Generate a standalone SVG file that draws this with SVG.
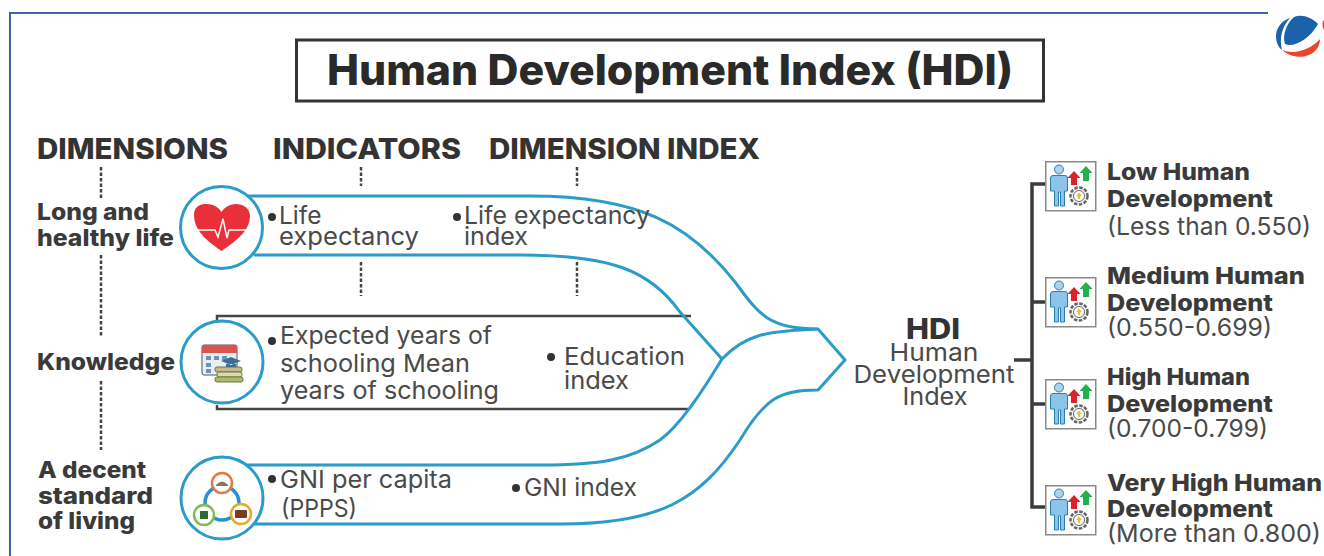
<svg xmlns="http://www.w3.org/2000/svg" width="1324" height="556" viewBox="0 0 1324 556">
<style>
text{font-family:Inter,"Noto Sans","Liberation Sans",sans-serif;fill:#3a3a3a}
.h{font-weight:800;font-size:29px;fill:#333}
.b{font-weight:800;font-size:23px;fill:#3a3a3a}
.r{font-weight:400;font-size:24.5px;fill:#4a4a4a}
.dash{fill:none;stroke:#444;stroke-width:2.500;stroke-dasharray:3.500 2}
.blue{fill:none;stroke:#2b9cc8;stroke-width:3;stroke-linejoin:round}
.blk{fill:none;stroke:#444;stroke-width:2.500}
.circ{fill:#fff;stroke:#2b9cc8;stroke-width:3}
.dot{fill:#333}
.brk{fill:none;stroke:#3c3c3c;stroke-width:3.500}
</style>
<defs>
<g id="person">
<rect x="0.75" y="0.75" width="50" height="49" fill="#fff" stroke="#8a8a8a" stroke-width="1.500"/>
<circle cx="14" cy="8.500" r="4.500" fill="#a9d3ee" stroke="#2c7fb0" stroke-width="1"/>
<path d="M5.500 17q0-2.500 2.500-2.500h12q2.500 0 2.500 2.500v13h-3v15h-4v-14h-2v14h-4v-15h-4z" fill="#8cc3e8" stroke="#2c7fb0" stroke-width="1"/>
<path d="M29 10l-6.500 7h3.500v7h6v-7h3.500z" fill="#d9252a"/>
<path d="M41 5l-6.500 7h3.500v8h6v-8h3.500z" fill="#22b14c"/>
<circle cx="34" cy="35" r="8.500" fill="#f1f1f1" stroke="#666" stroke-width="2.500" stroke-dasharray="3.500 1.500"/>
<circle cx="34" cy="35" r="5.500" fill="#fff" stroke="#666"/>
<path d="M34 31.500l-3 3.500h1.800v3h2.400v-3h1.800z" fill="#e5c32a"/>
</g>
</defs>

<g id="frame">
<path d="M10 556V13H1268" fill="none" stroke="#3f64a8" stroke-width="2"/>
</g>
<g id="logo">
<path d="M1290 18C1280 21 1276 30 1276 36C1276 43 1279 48 1282 50C1279 38 1282 27 1290 18Z" fill="#1c62ab"/>
<path d="M1318 24C1311 17 1302 14 1294 17C1286 24 1282 36 1285 44C1293 48 1309 40 1318 24Z" fill="#1c62ab"/>
<path d="M1282 50C1294 55 1310 50 1320 39C1320 46 1316 52 1309 55C1299 59 1289 56 1282 50Z" fill="#e8472d"/>
<path d="M1324 20C1322 22 1322 26 1324 30Z" fill="#e8472d"/>
</g>
<g id="title">
<rect x="296.500" y="40" width="747" height="61" fill="#fff" stroke="#333" stroke-width="3"/>
<text x="670" y="85" text-anchor="middle" font-size="42" font-weight="800" style="fill:#2a2a2a" textLength="686" lengthAdjust="spacingAndGlyphs">Human Development Index (HDI)</text>
</g>
<g id="headers">
<text class="h" x="37" y="159" textLength="191" lengthAdjust="spacingAndGlyphs">DIMENSIONS</text>
<text class="h" x="273" y="159" textLength="188" lengthAdjust="spacingAndGlyphs">INDICATORS</text>
<text class="h" x="489" y="159" textLength="271" lengthAdjust="spacingAndGlyphs">DIMENSION INDEX</text>
</g>
<g id="connectors">
<path class="dash" d="M101 167V198M101 255V337M101 381V450M361 167V186M361 262V296M577 167V186M577 262V296"/>
<path class="blk" d="M217 321V316H691M217 405V409H688"/>
<path class="blue" d="M246 196H530C640 196 690 225 735 282C760 316 770 329 818 329L845 360L818 390C780 390 765 398 740 440C700 500 660 524 560 524H254"/>
<path class="blue" d="M254 255H520C610 255 650 270 680 312L722 359C700 395 680 425 660 440C630 460 600 465 540 465H247"/>
<path class="blue" d="M722 359C745 335 765 331 818 329"/>
<path class="brk" d="M1014 360H1032M1045 184H1032V507H1045M1032 302H1045M1032 404H1045"/>
</g>
<g id="n-long">
<text class="b" x="37" y="220" textLength="112" lengthAdjust="spacingAndGlyphs">Long and</text>
<text class="b" x="37" y="246" textLength="137" lengthAdjust="spacingAndGlyphs">healthy life</text>
<circle class="circ" cx="221.500" cy="227.500" r="41"/>
<path d="M221.500 251C212 244 194 233 194 215C194 205 202 204 207 204C214 204 219 208 221.500 212C224 208 229 204 236 204C243 204 250 208 250 216C250 233 231 244 221.500 251Z" fill="#e9303a"/>
<path d="M197 230H215L218 237L223 219L227 238L229 230H248" fill="none" stroke="#fff" stroke-width="1.500"/>
</g>
<g id="n-know">
<text class="b" x="37" y="370" textLength="138" lengthAdjust="spacingAndGlyphs">Knowledge</text>
<circle class="circ" cx="222" cy="362" r="41"/>
<rect x="202" y="345" width="35" height="30" rx="2" fill="#e8eef4" stroke="#555"/>
<rect x="202" y="345" width="35" height="8" fill="#d9534f"/>
<path d="M206 356h5v4h-5zM214 356h5v4h-5zM222 356h5v4h-5zM206 363h5v4h-5zM206 369h5v4h-5z" fill="#6d93b5"/>
<rect x="215" y="367" width="27" height="5" rx="2" fill="#c9b68a" stroke="#6b7a3a"/>
<rect x="217" y="372" width="25" height="5" rx="2" fill="#dcd9b0" stroke="#6b7a3a"/>
<rect x="215" y="377" width="28" height="5" rx="2" fill="#a9bb6e" stroke="#6b7a3a"/>
<path d="M221 361l10-4 10 4-10 4zM226 364v3h10v-3z" fill="#3b6e8f"/>
</g>
<g id="n-living">
<text class="b" x="38" y="478" textLength="108" lengthAdjust="spacingAndGlyphs">A decent</text>
<text class="b" x="38" y="504" textLength="115" lengthAdjust="spacingAndGlyphs">standard</text>
<text class="b" x="38" y="529" textLength="97" lengthAdjust="spacingAndGlyphs">of living</text>
<circle class="circ" cx="222" cy="498" r="41"/>
<circle cx="222" cy="503" r="17" fill="none" stroke="#2a8fd0" stroke-width="3.500"/>
<circle cx="222" cy="483" r="10" fill="#fff" stroke="#e07a45" stroke-width="2.500"/>
<path d="M216 485q6-7 12 0v1h-12z" fill="#8a6f6f"/>
<circle cx="204" cy="515" r="10" fill="#fff" stroke="#7cbf4d" stroke-width="2.500"/>
<rect x="200" y="511" width="8" height="8" fill="#2f6b2f"/>
<circle cx="241" cy="514" r="10" fill="#fff" stroke="#e6a92e" stroke-width="2.500"/>
<rect x="235" y="510" width="12" height="8" rx="1" fill="#7a3b1e"/>
</g>
<g id="indicators">
<circle class="dot" cx="272" cy="217" r="4"/>
<text class="r" x="279" y="224">Life</text>
<text class="r" x="279" y="245" textLength="140" lengthAdjust="spacingAndGlyphs">expectancy</text>
<circle class="dot" cx="272" cy="341" r="4"/>
<text class="r" x="280" y="344" textLength="212" lengthAdjust="spacingAndGlyphs">Expected years of</text>
<text class="r" x="280" y="372" textLength="190" lengthAdjust="spacingAndGlyphs">schooling Mean</text>
<text class="r" x="280" y="399" textLength="219" lengthAdjust="spacingAndGlyphs">years of schooling</text>
<circle class="dot" cx="272" cy="479" r="4"/>
<text class="r" x="280" y="488" textLength="172" lengthAdjust="spacingAndGlyphs">GNI per capita</text>
<text class="r" x="281" y="517" textLength="76" lengthAdjust="spacingAndGlyphs">(PPPS)</text>
</g>
<g id="indices">
<circle class="dot" cx="457" cy="217" r="4"/>
<text class="r" x="464" y="224" textLength="186" lengthAdjust="spacingAndGlyphs">Life expectancy</text>
<text class="r" x="464" y="245" textLength="64" lengthAdjust="spacingAndGlyphs">index</text>
<circle class="dot" cx="551" cy="357" r="4"/>
<text class="r" x="564" y="365" textLength="121" lengthAdjust="spacingAndGlyphs">Education</text>
<text class="r" x="564" y="389" textLength="65" lengthAdjust="spacingAndGlyphs">index</text>
<circle class="dot" cx="516" cy="488" r="4"/>
<text class="r" x="524" y="496" textLength="113" lengthAdjust="spacingAndGlyphs">GNI index</text>
</g>
<g id="n-hdi">
<text x="933" y="339" text-anchor="middle" font-size="28" font-weight="800" style="fill:#333" textLength="54" lengthAdjust="spacingAndGlyphs">HDI</text>
<text class="r" x="934" y="361" text-anchor="middle" textLength="89" lengthAdjust="spacingAndGlyphs">Human</text>
<text class="r" x="934" y="383" text-anchor="middle" textLength="161" lengthAdjust="spacingAndGlyphs">Development</text>
<text class="r" x="935" y="405" text-anchor="middle" textLength="65" lengthAdjust="spacingAndGlyphs">Index</text>
</g>
<g id="n-low">
<use href="#person" x="1045" y="161"/>
<text class="b" x="1107" y="180" textLength="143" lengthAdjust="spacingAndGlyphs">Low Human</text>
<text class="b" x="1107" y="207" textLength="166" lengthAdjust="spacingAndGlyphs">Development</text>
<text class="r" x="1107" y="235" textLength="204" lengthAdjust="spacingAndGlyphs">(Less than 0.550)</text>
</g>
<g id="n-medium">
<use href="#person" x="1045" y="277"/>
<text class="b" x="1107" y="284" textLength="198" lengthAdjust="spacingAndGlyphs">Medium Human</text>
<text class="b" x="1107" y="311" textLength="166" lengthAdjust="spacingAndGlyphs">Development</text>
<text class="r" x="1107" y="336" textLength="165" lengthAdjust="spacingAndGlyphs">(0.550-0.699)</text>
</g>
<g id="n-high">
<use href="#person" x="1045" y="379"/>
<text class="b" x="1107" y="385" textLength="143" lengthAdjust="spacingAndGlyphs">High Human</text>
<text class="b" x="1107" y="412" textLength="166" lengthAdjust="spacingAndGlyphs">Development</text>
<text class="r" x="1107" y="437" textLength="161" lengthAdjust="spacingAndGlyphs">(0.700-0.799)</text>
</g>
<g id="n-veryhigh">
<use href="#person" x="1045" y="485"/>
<text class="b" x="1107" y="491" textLength="215" lengthAdjust="spacingAndGlyphs">Very High Human</text>
<text class="b" x="1107" y="517" textLength="166" lengthAdjust="spacingAndGlyphs">Development</text>
<text class="r" x="1107" y="542" textLength="214" lengthAdjust="spacingAndGlyphs">(More than 0.800)</text>
</g>
</svg>
